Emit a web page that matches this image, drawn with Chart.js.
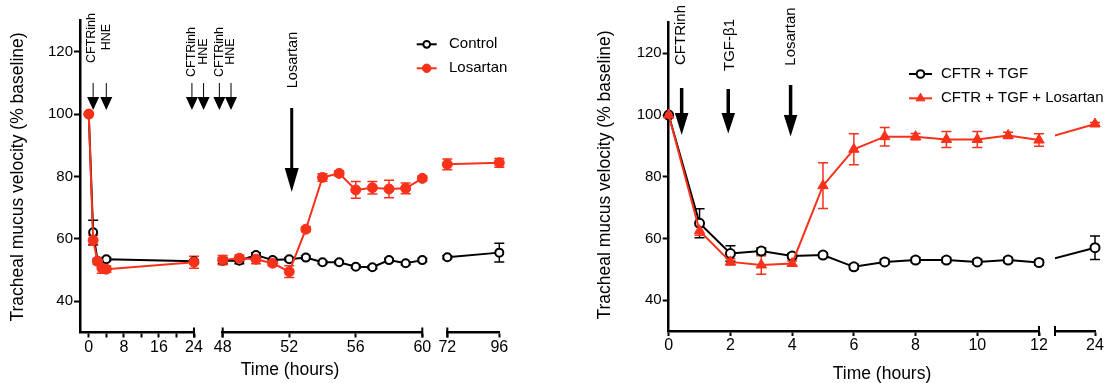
<!DOCTYPE html>
<html>
<head>
<meta charset="utf-8">
<script src="https://cdn.jsdelivr.net/npm/chart.js@4.4.1/dist/chart.umd.min.js"></script>
<style>
  html, body { margin: 0; padding: 0; background: #fff; }
  #wrap { position: relative; width: 1107px; height: 383px; overflow: hidden; }
  #wrap canvas { position: absolute; left: 0; top: 0; }
</style>
</head>
<body>
<div id="wrap"></div>
<script>
// ---- left panel: CFTRinh + HNE, losartan at 52 h ----
const controlTimesA = [0, 1, 2, 4, 24];
const controlA = [100, 62.1, 53.0, 53.5, 52.8];
const controlErrA = [0, 3.9, 0.5, 0.5, 0.5];
const losartanTimesA = [0, 1, 2, 3, 4, 24];
const losartanA = [100, 59.6, 52.8, 50.6, 50.3, 52.5];
const losartanErrA = [0, 1.6, 1.0, 1.6, 1.0, 1.9];

const leftTimesB = [48, 49, 50, 51, 52, 53, 54, 55, 56, 57, 58, 59, 60];
const controlB = [53.0, 53.0, 54.8, 53.2, 53.5, 54.0, 52.5, 52.5, 51.1, 50.9, 53.2, 52.2, 53.2];
const controlErrB = [1.0, 1.0, 0.8, 0.5, 0.5, 0.5, 0.5, 0.5, 0.5, 0.5, 0.5, 0.5, 0.5];
const losartanB = [53.2, 53.8, 53.5, 52.2, 49.5, 63.1, 79.7, 81.0, 75.7, 76.4, 76.0, 76.2, 79.4];
const losartanErrB = [1.5, 1.0, 1.5, 0.8, 1.9, 0.8, 1.2, 0.8, 2.7, 2.0, 2.8, 1.7, 0.8];

const leftTimesC = [72, 96];
const controlC = [54.1, 55.6];
const controlErrC = [0.5, 3.0];
const losartanC = [83.9, 84.4];
const losartanErrC = [1.7, 1.4];

// ---- right panel: CFTR + TGF +/- losartan ----
const rightTimes = [0, 1, 2, 3, 4, 5, 6, 7, 8, 9, 10, 11, 12, 24];
const cftrTgf = [100, 64.9, 55.1, 55.9, 54.3, 54.6, 50.8, 52.4, 53.0, 53.0, 52.4, 53.0, 52.2, 57.0];
const cftrTgfErr = [0, 4.7, 2.5, 1.0, 0.8, 0.8, 0.8, 0.8, 0.8, 0.8, 0.8, 0.8, 0.8, 3.8];
const cftrTgfLos = [100, 62.5, 52.4, 51.4, 51.9, 77.1, 88.9, 93.0, 93.0, 92.1, 92.1, 93.4, 91.9, 97.1];
const cftrTgfLosErr = [0, 1.5, 1.0, 3.0, 0.8, 7.4, 5.0, 3.0, 1.0, 2.6, 2.6, 1.0, 2.0, 0.5];

// ---- ticks ----
const yTicks = [40, 60, 80, 100, 120];
const leftTicksA = [0, 4, 8, 12, 16, 20, 24];
const leftLabelsA = [0, 8, 16, 24];
const leftTicksB = [48, 52, 56, 60];
const leftTicksC = [72, 96];
const rightTicksA = [0, 2, 4, 6, 8, 10, 12];
const rightTicksB = [24];

const W = 1107, H = 383;
const RED = '#f8311b';
const BLACK = '#000';
const FONT = '"Liberation Sans", Arial, Helvetica, sans-serif';
Chart.defaults.font.family = FONT;
Chart.defaults.color = '#000';

function pts(xs, ys) { return xs.map((x, i) => ({ x: x, y: ys[i] })); }

function openCircle(label, xs, ys, errs, r, clip) {
  return {
    label: label, data: pts(xs, ys), sem: errs,
    borderColor: BLACK, borderWidth: 2, tension: 0,
    pointStyle: 'circle', pointRadius: r, pointBorderWidth: 2,
    pointBackgroundColor: '#fff', pointBorderColor: BLACK,
    order: 2, clip: clip
  };
}
function redMarks(label, xs, ys, errs, style, r, clip) {
  return {
    label: label, data: pts(xs, ys), sem: errs,
    borderColor: RED, borderWidth: 2, tension: 0,
    pointStyle: style, pointRadius: r, pointBorderWidth: 1,
    pointBackgroundColor: RED, pointBorderColor: RED,
    order: 1, clip: clip
  };
}

const CLIP = { left: 8, right: 8, top: 8, bottom: 8 };
const CLIP_BROKEN = { left: 0, right: 8, top: 8, bottom: 8 };

function drawErrorBars(chart) {
  const { ctx, chartArea: a, scales: { x, y } } = chart;
  ctx.save();
  ctx.beginPath();
  ctx.rect(a.left - 8, a.top - 8, a.right - a.left + 16, a.bottom - a.top + 16);
  ctx.clip();
  chart.data.datasets.forEach(ds => {
    if (!ds.sem) return;
    ctx.strokeStyle = ds.borderColor;
    ctx.lineWidth = 1.5;
    ds.data.forEach((p, i) => {
      const e = ds.sem[i];
      if (!e || p.x < x.min || p.x > x.max) return;
      const px = x.getPixelForValue(p.x);
      const y1 = y.getPixelForValue(p.y - e), y2 = y.getPixelForValue(p.y + e);
      ctx.beginPath();
      ctx.moveTo(px, y1); ctx.lineTo(px, y2);
      ctx.moveTo(px - 5, y1); ctx.lineTo(px + 5, y1);
      ctx.moveTo(px - 5, y2); ctx.lineTo(px + 5, y2);
      ctx.stroke();
    });
  });
  ctx.restore();
}

function drawCaps(chart, caps) {
  const { ctx, chartArea: a } = chart;
  ctx.save();
  ctx.strokeStyle = '#000';
  ctx.lineWidth = 2;
  (caps || []).forEach(side => {
    const px = side === 'left' ? a.left : a.right;
    ctx.beginPath();
    ctx.moveTo(px, a.bottom - 5);
    ctx.lineTo(px, a.bottom + 5);
    ctx.stroke();
  });
  ctx.restore();
}

function vText(ctx, text, x, cy, size) {
  ctx.save();
  ctx.translate(x, cy);
  ctx.rotate(-Math.PI / 2);
  ctx.font = size + 'px ' + FONT;
  ctx.textAlign = 'center';
  ctx.textBaseline = 'middle';
  ctx.fillStyle = '#000';
  ctx.fillText(text, 0, 0);
  ctx.restore();
}

function drawMarks(chart, marks) {
  const ctx = chart.ctx, x = chart.scales.x;
  (marks || []).forEach(m => {
    const px = x.getPixelForValue(m.t);
    ctx.save();
    ctx.strokeStyle = '#000';
    ctx.fillStyle = '#000';
    ctx.lineWidth = m.stem;
    ctx.beginPath();
    ctx.moveTo(px, m.top);
    ctx.lineTo(px, m.head + 1);
    ctx.stroke();
    ctx.beginPath();
    ctx.moveTo(px - m.headW / 2, m.head);
    ctx.lineTo(px + m.headW / 2, m.head);
    ctx.lineTo(px, m.tip);
    ctx.closePath();
    ctx.fill();
    ctx.restore();
    vText(ctx, m.text, px + (m.dx || 0), m.cy, m.size);
  });
}

function drawLegend(chart, lg) {
  const ctx = chart.ctx;
  chart.data.datasets.slice().sort((a, b) => b.order - a.order).forEach((ds, i) => {
    const y = lg.y[i];
    ctx.save();
    ctx.strokeStyle = ds.borderColor;
    ctx.lineWidth = 2;
    ctx.beginPath();
    ctx.moveTo(lg.x0, y); ctx.lineTo(lg.x1, y);
    ctx.stroke();
    ctx.fillStyle = ds.pointBackgroundColor;
    ctx.strokeStyle = ds.pointBorderColor;
    ctx.lineWidth = ds.pointBorderWidth;
    Chart.helpers.drawPoint(ctx, { pointStyle: ds.pointStyle, radius: ds.pointRadius * 0.85, borderWidth: ds.pointBorderWidth, rotation: 0 }, (lg.x0 + lg.x1) / 2, y);
    ctx.fillStyle = '#000';
    ctx.font = '15px ' + FONT;
    ctx.textAlign = 'left';
    ctx.textBaseline = 'middle';
    ctx.fillText(ds.label, lg.tx, y);
    ctx.restore();
  });
}

function drawTitles(chart, t) {
  const ctx = chart.ctx;
  vText(ctx, 'Tracheal mucus velocity (% baseline)', t.yx, t.yy, 17.5);
  ctx.save();
  ctx.font = '17.5px ' + FONT;
  ctx.textAlign = 'center';
  ctx.textBaseline = 'middle';
  ctx.fillStyle = '#000';
  ctx.fillText('Time (hours)', t.xx, t.xy);
  ctx.restore();
}

function segment(cfg) {
  const canvas = document.createElement('canvas');
  canvas.width = W; canvas.height = H;
  document.getElementById('wrap').appendChild(canvas);
  const a = cfg.area;
  const yW = 40, xH = 30;
  const labels = cfg.labels || cfg.ticks;
  return new Chart(canvas, {
    type: 'line',
    data: { datasets: cfg.datasets },
    options: {
      responsive: false,
      animation: false,
      devicePixelRatio: 1,
      events: [],
      layout: { padding: { left: a.left - (cfg.yAxis ? yW : 0), right: W - a.right, top: a.top, bottom: H - a.bottom - xH } },
      plugins: { legend: { display: false }, tooltip: { enabled: false } },
      scales: {
        x: {
          type: 'linear', min: cfg.min, max: cfg.max,
          afterFit: s => { s.height = xH; },
          afterBuildTicks: s => { s.ticks = cfg.ticks.map(v => ({ value: v })); },
          border: { display: true, color: '#000', width: 2.5 },
          grid: { drawOnChartArea: false, tickLength: 5, tickWidth: 2, color: '#000' },
          ticks: {
            autoSkip: false, maxRotation: 0, minRotation: 0, padding: 0,
            font: { size: 16 }, color: '#000',
            callback: v => labels.includes(v) ? String(v) : ''
          }
        },
        y: {
          display: !!cfg.yAxis,
          min: 30, max: 130,
          afterFit: s => { if (cfg.yAxis) s.width = yW; },
          afterBuildTicks: s => { s.ticks = yTicks.map(v => ({ value: v })); },
          border: { display: true, color: '#000', width: 2.5 },
          grid: { drawOnChartArea: false, tickLength: 6, tickWidth: 2, color: '#000' },
          ticks: { font: { size: 15 }, color: '#000', padding: 1 }
        }
      }
    },
    plugins: [{
      id: 'decor',
      beforeDatasetsDraw: chart => drawErrorBars(chart),
      afterDraw: chart => {
        drawCaps(chart, cfg.caps);
        drawMarks(chart, cfg.marks);
        if (cfg.legend) drawLegend(chart, cfg.legend);
        if (cfg.titles) drawTitles(chart, cfg.titles);
      }
    }]
  });
}

// ---- left panel segments ----
const smallArrow = { size: 12.5, top: 83, head: 97, tip: 110, stem: 1, headW: 12 };

segment({
  area: { left: 80, right: 194, top: 20.5, bottom: 332.5 },
  yAxis: true, min: -2, max: 24, ticks: leftTicksA, labels: leftLabelsA, caps: ['right'],
  datasets: [
    openCircle('Control', controlTimesA, controlA, controlErrA, 4, CLIP),
    redMarks('Losartan', losartanTimesA, losartanA, losartanErrA, 'circle', 5, CLIP)
  ],
  marks: [
    Object.assign({ t: 1, text: 'CFTRinh', cy: 38, dx: -1.5 }, smallArrow),
    Object.assign({ t: 4, text: 'HNE', cy: 37 }, smallArrow)
  ],
  titles: { yx: 18.5, yy: 177, xx: 290, xy: 370.5 }
});

segment({
  area: { left: 222.7, right: 422.3, top: 20.5, bottom: 332.5 },
  min: 48, max: 60, ticks: leftTicksB, caps: ['left', 'right'],
  datasets: [
    openCircle('Control', leftTimesB, controlB, controlErrB, 4, CLIP),
    redMarks('Losartan', leftTimesB, losartanB, losartanErrB, 'circle', 5, CLIP)
  ],
  marks: [
    Object.assign({ t: 46.15, text: 'CFTRinh', cy: 52 }, smallArrow),
    Object.assign({ t: 46.85, text: 'HNE', cy: 51.5 }, smallArrow),
    Object.assign({ t: 47.8, text: 'CFTRinh', cy: 52 }, smallArrow),
    Object.assign({ t: 48.5, text: 'HNE', cy: 51.5 }, smallArrow),
    { t: 52.15, text: 'Losartan', cy: 60, size: 14.5, top: 108, head: 168, tip: 192, stem: 3, headW: 14, dx: 1.5 }
  ]
});

segment({
  area: { left: 447.3, right: 499.3, top: 20.5, bottom: 332.5 },
  min: 72, max: 96, ticks: leftTicksC, caps: ['left'],
  datasets: [
    openCircle('Control', leftTimesC, controlC, controlErrC, 4, CLIP),
    redMarks('Losartan', leftTimesC, losartanC, losartanErrC, 'circle', 5, CLIP)
  ],
  legend: { x0: 416.7, x1: 436.7, tx: 449, y: [44.3, 68.3] }
});

// ---- right panel segments ----
const bigArrow = { size: 15, stem: 3.5, headW: 13.5 };

segment({
  area: { left: 668.7, right: 1039, top: 22.5, bottom: 331 },
  yAxis: true, min: 0, max: 12, ticks: rightTicksA, caps: ['right'],
  datasets: [
    openCircle('CFTR + TGF', rightTimes.slice(0, 13), cftrTgf.slice(0, 13), cftrTgfErr.slice(0, 13), 4.5, CLIP),
    redMarks('CFTR + TGF + Losartan', rightTimes.slice(0, 13), cftrTgfLos.slice(0, 13), cftrTgfLosErr.slice(0, 13), 'triangle', 6, CLIP)
  ],
  marks: [
    Object.assign({ t: 0.42, text: 'CFTRinh', cy: 35, top: 88, head: 113, tip: 135, dx: -1 }, bigArrow),
    Object.assign({ t: 1.93, text: 'TGF-\u03B21', cy: 45, top: 89, head: 113, tip: 133.5, dx: 2 }, bigArrow),
    Object.assign({ t: 3.95, text: 'Losartan', cy: 36.5, top: 85, head: 115, tip: 136.5 }, bigArrow)
  ],
  legend: { x0: 909, x1: 932, tx: 941, y: [74, 98.3] },
  titles: { yx: 605, yy: 175, xx: 882, xy: 374 }
});

segment({
  area: { left: 1055, right: 1095, top: 22.5, bottom: 331 },
  min: 15.43, max: 24, ticks: rightTicksB, caps: ['left'],
  datasets: [
    openCircle('CFTR + TGF', rightTimes.slice(12), cftrTgf.slice(12), cftrTgfErr.slice(12), 4.5, CLIP_BROKEN),
    redMarks('CFTR + TGF + Losartan', rightTimes.slice(12), cftrTgfLos.slice(12), cftrTgfLosErr.slice(12), 'triangle', 6, CLIP_BROKEN)
  ]
});
</script>
</body>
</html>
